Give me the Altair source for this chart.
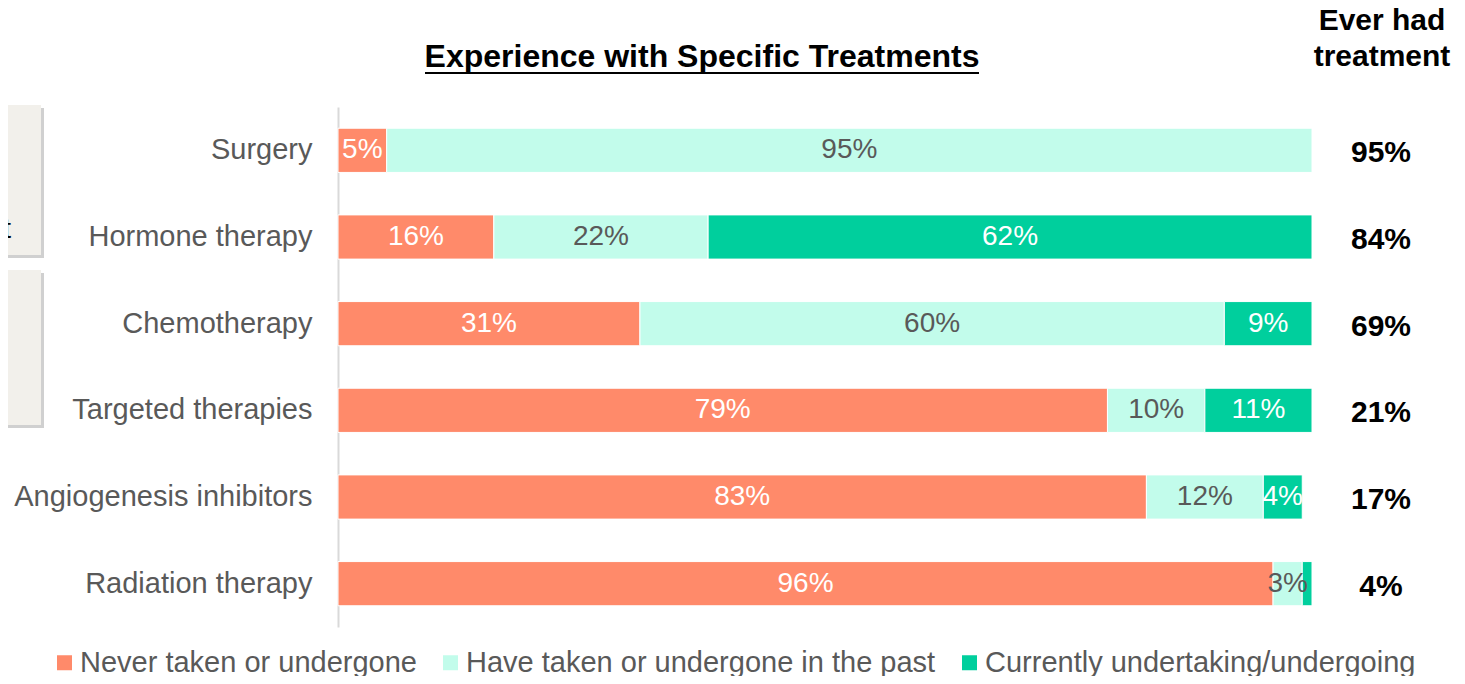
import altair as alt
import pandas as pd

categories = ["Surgery", "Hormone therapy", "Chemotherapy", "Targeted therapies",
              "Angiogenesis inhibitors", "Radiation therapy"]
never = [5, 16, 31, 79, 83, 96]
past = [95, 22, 60, 10, 12, 3]
current = [0, 62, 9, 11, 4, 1]
ever_had = [95, 84, 69, 21, 17, 4]
statuses = ["Never taken or undergone", "Have taken or undergone in the past",
            "Currently undertaking/undergoing"]
colors = ["#FF8A6A", "#C2FCEB", "#00CF9D"]

FONT = "Arial, Liberation Sans, sans-serif"

rows = []
for i, c in enumerate(categories):
    start = 0
    for s, vals in zip(statuses, [never, past, current]):
        v = vals[i]
        if v > 0:
            rows.append({"cat": c, "status": s, "start": start, "end": start + v,
                         "mid": start + v / 2, "label": f"{v}%" if v >= 3 else ""})
        start += v
df = pd.DataFrame(rows)
ever_df = pd.DataFrame({"cat": categories, "ever": [f"{v}%" for v in ever_had]})

yscale = alt.Scale(domain=categories, paddingInner=0.49, paddingOuter=0.245)
xscale = alt.Scale(domain=[0, 100])
Y = alt.Y("cat:N", sort=categories, scale=yscale, title=None,
          axis=alt.Axis(labelFont=FONT, labelFontSize=29, labelColor="#595959",
                        ticks=False, grid=False, domainColor="#d9d9d9", domainWidth=2,
                        labelPadding=26, labelLimit=400))

bars = alt.Chart(df).mark_bar(stroke="white", strokeWidth=1).encode(
    y=Y,
    x=alt.X("start:Q", scale=xscale, axis=None),
    x2="end:Q",
    color=alt.Color("status:N", scale=alt.Scale(domain=statuses, range=colors),
                    legend=alt.Legend(title=None, orient="none", direction="horizontal",
                                      legendX=-288, legendY=541, symbolType="square",
                                      symbolSize=225, symbolStrokeWidth=0,
                                      labelFont=FONT, labelFontSize=29,
                                      labelColor="#595959", columnPadding=19,
                                      labelOffset=1, labelLimit=600)),
)

labels = alt.Chart(df).mark_text(font=FONT, fontSize=28, baseline="middle").encode(
    y=Y,
    x=alt.X("mid:Q", scale=xscale, axis=None),
    text="label:N",
    color=alt.condition(alt.datum.status == statuses[1], alt.value("#595959"),
                        alt.value("white")),
)

ever_text = alt.Chart(ever_df).mark_text(font=FONT, fontSize=30, fontWeight="bold",
                                         color="black", baseline="middle", dy=3).encode(
    y=Y,
    x=alt.value(1043),
    text="ever:N",
)

one = pd.DataFrame({"a": [0]})


def text_at(t, x, y, size, weight="normal", color="black", align="center"):
    return alt.Chart(one).mark_text(font=FONT, fontSize=size, fontWeight=weight,
                                    color=color, baseline="middle", align=align,
                                    text=t).encode(x=alt.value(x), y=alt.value(y))


header1 = text_at("Ever had", 1044, -86, 30, "bold")
header2 = text_at("treatment", 1044, -50, 30, "bold")
title = text_at("Experience with Specific Treatments", 364, -50, 32, "bold")

underline = alt.Chart(one).mark_rule(color="black", strokeWidth=2).encode(
    x=alt.value(87), x2=alt.value(641), y=alt.value(-34))


def box(y0, y1):
    sh = alt.Chart(one).mark_rect(color="#c4c4c4", opacity=0.8).encode(
        x=alt.value(-330), x2=alt.value(-294), y=alt.value(y0 + 3), y2=alt.value(y1 + 3))
    bx = alt.Chart(one).mark_rect(color="#F2F0EB").encode(
        x=alt.value(-330), x2=alt.value(-297), y=alt.value(y0), y2=alt.value(y1))
    return [sh, bx]


decor = box(-2, 148) + box(163, 318) + [
    text_at("nt", -327, 123, 28, align="right"),
    text_at("on", -330, 253, 28, align="right"),
]

chart = alt.layer(*decor, bars, labels, ever_text, header1, header2, title,
                  underline).properties(
    width=974, height=520,
    autosize=alt.AutoSizeParams(type="none"),
    padding={"left": 330, "top": 99, "right": 145, "bottom": 49},
).configure(background="white").configure_view(stroke="transparent", strokeWidth=0)

chart.save("out.html", embed_options={"renderer": "svg", "actions": False})
